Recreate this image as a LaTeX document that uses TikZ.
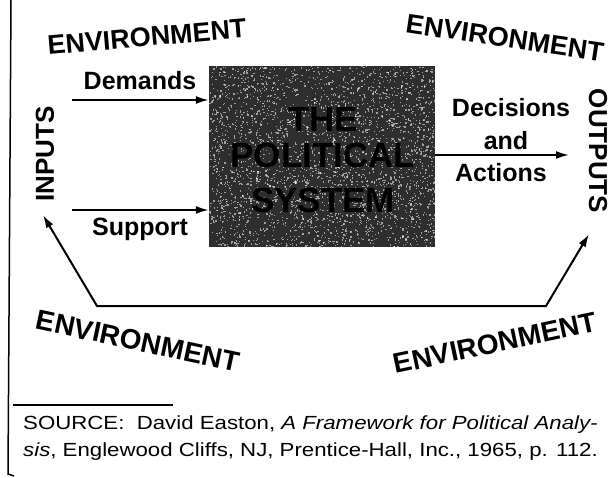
\documentclass[tikz,border=0pt]{standalone}
\usepackage{fontspec}
\setmainfont{Liberation Sans}
\newfontfamily\notefont{Liberation Sans}[FakeStretch=1.17]
\usetikzlibrary{arrows.meta,calc}

\begin{document}
\begin{tikzpicture}[x=1pt,y=-1pt,
  flow/.style={line width=2pt,-{Latex[length=13pt,width=8pt]}},
  loop/.style={line width=2pt,{Latex[length=13pt,width=8pt]}-{Latex[length=13pt,width=8pt]}},
  lbl/.style={font=\fontsize{25}{27}\selectfont\bfseries, inner sep=0pt, anchor=base},
  envtop/.style={font=\fontsize{27}{29}\selectfont\bfseries, inner sep=0pt},
  envlow/.style={font=\fontsize{28}{30}\selectfont\bfseries, inner sep=0pt},
  side/.style={font=\fontsize{26}{28}\selectfont\bfseries, inner sep=0pt},
  sysword/.style={font=\fontsize{35}{37}\selectfont\bfseries, inner sep=0pt, anchor=base, text=black},
  note/.style={font=\notefont\fontsize{19}{27}\selectfont, inner sep=0pt, align=left, anchor=north west},
]
\useasboundingbox (0,0) rectangle (612,478);
\fill[white] (0,0) rectangle (612,478);

% page margin rule
\draw[line width=1.5pt] (11,0) -- (8,474) -- (14,476);

% the system box with its grainy halftone fill
\node[fill=black!82, minimum width=226pt, minimum height=181pt, inner sep=0pt] (system) at (322,156.5) {};
\begin{scope}
  \clip (system.south west) rectangle (system.north east);
  \pgfmathsetseed{11}
  \foreach \k in {1,...,3000}{
    \pgfmathsetmacro\px{322+113*rand}
    \pgfmathsetmacro\py{156.5+90.5*rand}
    \fill[white,opacity=.55] (\px,\py) rectangle ++(1.3,1.3);
  }
\end{scope}
\node[sysword] (wthe) at (323,132) {THE};
\node[sysword] (wpol) at (323,168) {POLITICAL};
\node[sysword] (wsys) at (323,212) {SYSTEM};

% environment labels
\node[envtop, rotate=5]    (envTL) at (147,37) {ENVIRONMENT};
\node[envtop, rotate=-8.5] (envTR) at (505,38) {ENVIRONMENT};
\node[envlow, rotate=-12]  (envBL) at (138,341) {ENVIRONMENT};
\node[envlow, rotate=12]   (envBR) at (495,343) {ENVIRONMENT};

% inputs and outputs
\node[side, rotate=90]  (inputs)  at (45,154) {INPUTS};
\node[side, rotate=-90] (outputs) at (598,151) {OUTPUTS};

% input flows
\coordinate (dm0) at (72,100);
\coordinate (sp0) at (72,210);
\node[lbl] (demands) at (140,90) {Demands};
\node[lbl] (support) at (140,235) {Support};
\draw[flow] (dm0) -- (dm0 -| system.west);
\draw[flow] (sp0) -- (sp0 -| system.west);

% output flow
\coordinate (out1) at (569,155);
\draw[flow] (out1 -| system.east) -- (out1);
\node[lbl] (decA) at (511,117) {Decisions};
\node[lbl] (decB) at (506,150) {and};
\node[lbl] (decC) at (501,182) {Actions};

% feedback loop through the environment
\coordinate (outTip) at (589,234);
\coordinate (inTip) at (43,215);
\coordinate (fbR) at (546,306);
\coordinate (fbL) at (97,306);
\draw[loop] (outTip) -- (fbR) -- (fbL) -- (inTip);

% source note
\draw[line width=1.2pt] (13,405) -- (173,405);
\node[note] (src) at (23,416) {SOURCE:\ \ David Easton, \textit{A Framework for Political Analy-}\\
\textit{sis}, Englewood Cliffs, NJ, Prentice-Hall, Inc., 1965, p. 112.};
\end{tikzpicture}
\end{document}
